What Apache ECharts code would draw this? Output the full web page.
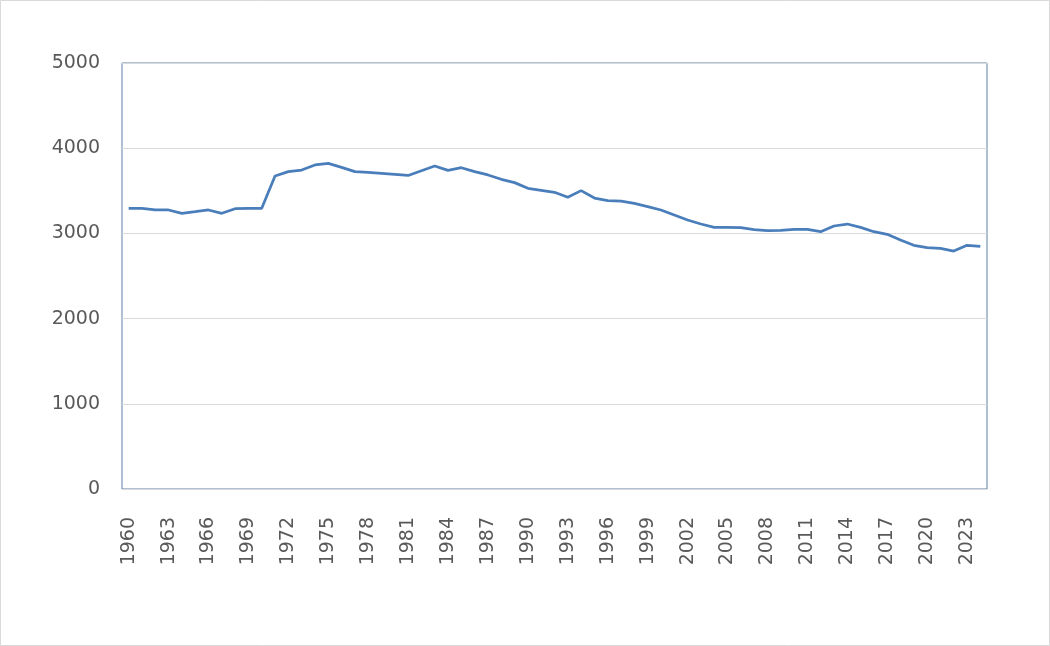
<!DOCTYPE html>
<html>
<head>
<meta charset="utf-8">
<script src="https://cdn.jsdelivr.net/npm/echarts@6/dist/echarts.min.js"></script>
<style>
html,body{margin:0;padding:0;background:#fff;}
#chart{width:1050px;height:646px;}
</style>
</head>
<body>
<div id="chart"></div>
<script>
const years = [];
for (let y = 1960; y <= 2024; y++) years.push(String(y));
const values = [
  3294, 3294, 3275, 3275, 3236, 3255, 3275, 3236, 3290, 3294,
  3294, 3674, 3725, 3744, 3803, 3822, 3775, 3725, 3717, 3705,
  3693, 3680, 3736, 3791, 3740, 3771, 3725, 3686, 3635, 3596,
  3529, 3506, 3482, 3424, 3502, 3415, 3384, 3380, 3353, 3314,
  3275, 3216, 3157, 3110, 3071, 3071, 3067, 3044, 3032, 3036,
  3048, 3048, 3020, 3087, 3110, 3071, 3020, 2989, 2922, 2860,
  2833, 2825, 2793, 2860, 2848
];
const yTicks = [0, 1000, 2000, 3000, 4000, 5000];

const chart = echarts.init(document.getElementById('chart'));
chart.setOption({
  animation: false,
  backgroundColor: '#ffffff',
  graphic: [{
    type: 'rect',
    shape: {x: 0.5, y: 0.5, width: 1049, height: 645},
    style: {fill: 'none', stroke: '#d9d9d9', lineWidth: 1},
    silent: true
  }],
  grid: {
    left: 122, right: 63, top: 63, bottom: 157,
    show: true, borderColor: '#5e7fa8', borderWidth: 1, backgroundColor: 'transparent'
  },
  xAxis: {
    type: 'category',
    data: years,
    boundaryGap: true,
    axisLine: {show: true, lineStyle: {color: '#d9d9d9', width: 1}},
    axisTick: {show: false},
    axisLabel: {
      interval: 2,
      rotate: 90,
      margin: 28,
      color: '#595959',
      fontSize: 19,
      fontFamily: '"DejaVu Sans", sans-serif'
    },
    splitLine: {show: false}
  },
  yAxis: {
    type: 'value',
    min: yTicks[0],
    max: yTicks[yTicks.length - 1],
    interval: 1000,
    axisLine: {show: false},
    axisTick: {show: false},
    axisLabel: {
      margin: 22,
      color: '#595959',
      fontSize: 19,
      fontFamily: '"DejaVu Sans", sans-serif',
      formatter: function (v) { return String(v); }
    },
    splitLine: {show: true, lineStyle: {color: '#d9d9d9', width: 1}}
  },
  series: [{
    type: 'line',
    data: values,
    symbol: 'none',
    smooth: false,
    lineStyle: {color: '#4a7ebb', width: 2.75},
    itemStyle: {color: '#4a7ebb'}
  }]
});
</script>
</body>
</html>
